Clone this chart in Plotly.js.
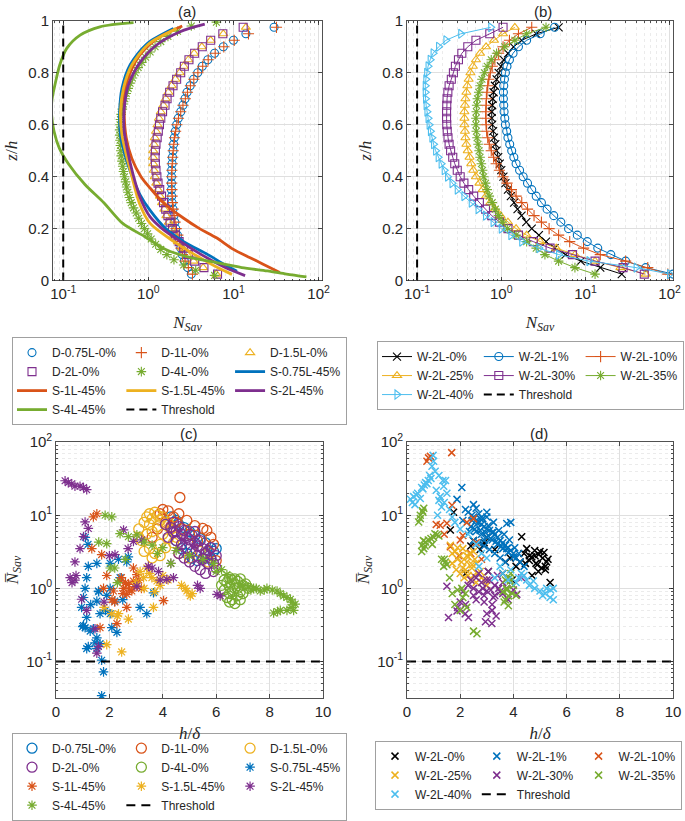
<!DOCTYPE html>
<html><head><meta charset="utf-8">
<script src="https://cdn.plot.ly/plotly-3.0.1.min.js"></script>
<style>body{margin:0;background:#fff}#chart{width:685px;height:821px}</style>
</head><body><div id="chart"></div>
<script>
// ---------- Panel (a): N_Sav profiles vs z/h ----------
const zGrid = [0.025,0.05,0.075,0.1,0.125,0.15,0.175,0.2,0.225,0.25,0.275,0.3,0.325,0.35,0.375,0.4,0.425,0.45,0.475,0.5,0.525,0.55,0.575,0.6,0.625,0.65,0.675,0.7,0.725,0.75,0.775,0.8,0.825,0.85,0.875,0.9,0.925,0.95,0.975];
const nD075 = [3.2,2.9,2.65,2.5,2.4,2.3,2.2,2.1,2.05,2.0,1.95,1.9,1.88,1.87,1.87,1.87,1.88,1.9,1.92,1.95,1.98,2.02,2.08,2.15,2.25,2.4,2.55,2.7,2.85,3.1,3.4,3.8,4.3,5.0,6.0,7.6,10,14,30];
const nD1 = [3.3,2.95,2.7,2.52,2.42,2.32,2.22,2.12,2.06,2.01,1.96,1.92,1.9,1.89,1.88,1.88,1.89,1.91,1.93,1.96,1.99,2.03,2.09,2.16,2.26,2.4,2.55,2.72,2.88,3.12,3.42,3.82,4.35,5.05,6.1,7.7,10.2,15,32];
const nD15 = [6.3,4.4,3.4,2.85,2.5,2.22,2.02,1.86,1.74,1.63,1.54,1.45,1.37,1.3,1.24,1.19,1.16,1.14,1.13,1.14,1.16,1.19,1.23,1.28,1.33,1.4,1.5,1.6,1.72,1.88,2.08,2.33,2.6,2.95,3.45,4.25,5.4,7.6,14];
const nD2 = [6.5,4.5,3.5,2.95,2.6,2.3,2.08,1.92,1.8,1.7,1.6,1.51,1.43,1.36,1.3,1.26,1.23,1.21,1.2,1.21,1.23,1.27,1.31,1.35,1.4,1.47,1.57,1.66,1.78,1.95,2.15,2.4,2.65,3.0,3.5,4.3,5.4,7.5,13];
const zD4 = [0.02,0.04,0.06,0.08,0.1,0.12,0.14,0.16,0.18,0.2,0.22,0.24,0.26,0.28,0.3,0.32,0.34,0.36,0.38,0.4,0.42,0.44,0.46,0.48,0.5,0.52,0.54,0.56,0.58,0.6,0.62,0.64,0.66,0.68,0.7,0.72,0.74,0.76,0.78,0.8,0.82,0.84,0.86,0.88,0.9,0.92,0.94,0.96,0.98,0.995];
const nD4 = [6.0,3.6,2.6,2.0,1.65,1.4,1.22,1.08,0.98,0.9,0.83,0.77,0.72,0.67,0.63,0.6,0.575,0.555,0.54,0.525,0.51,0.5,0.49,0.48,0.475,0.47,0.465,0.462,0.462,0.465,0.47,0.48,0.495,0.51,0.53,0.55,0.58,0.61,0.65,0.7,0.76,0.84,0.93,1.05,1.2,1.4,1.7,2.2,3.2,6.3];
const zS075 = [0.036,0.06,0.1,0.15,0.2,0.27,0.33,0.41,0.485,0.56,0.65,0.74,0.83,0.91,0.97];
const nS075 = [11,8,5.0,2.6,1.6,1.05,0.8,0.63,0.53,0.47,0.46,0.49,0.61,0.95,1.97];
const zS1 = [0.031,0.064,0.088,0.12,0.165,0.2,0.24,0.3,0.356,0.4,0.47,0.55,0.64,0.73,0.8,0.87,0.93,0.98];
const nS1 = [35,22,15.7,10,6.3,4.0,2.6,1.5,1.05,0.82,0.64,0.55,0.52,0.53,0.61,0.8,1.25,2.5];
const zS15 = [0.024,0.05,0.1,0.15,0.22,0.3,0.41,0.485,0.56,0.65,0.74,0.83,0.91,0.97];
const nS15 = [9.6,6.5,3.5,2.0,1.05,0.78,0.63,0.55,0.49,0.47,0.51,0.64,1.0,2.15];
const zS2 = [0.019,0.05,0.1,0.15,0.2,0.245,0.32,0.41,0.5,0.575,0.66,0.75,0.84,0.907,0.958,0.987];
const nS2 = [13.7,8,4.2,2.4,1.45,1.05,0.8,0.66,0.57,0.52,0.52,0.58,0.8,1.25,2.36,4.6];
const zS4 = [0.014,0.025,0.037,0.05,0.069,0.09,0.12,0.17,0.22,0.3,0.37,0.45,0.51,0.575,0.64,0.7,0.754,0.83,0.894,0.945,0.977,0.993];
const nS4 = [72,42,25,12.5,6.3,3.0,1.6,0.9,0.5,0.3,0.18,0.115,0.09,0.078,0.073,0.074,0.08,0.091,0.11,0.158,0.27,0.67];

// ---------- Panel (b): W-2L profiles ----------
const nW0 = [27,15,8.8,5.8,4.3,3.4,2.8,2.3,1.98,1.74,1.56,1.42,1.3,1.2,1.12,1.06,1.0,0.96,0.92,0.88,0.85,0.82,0.8,0.78,0.77,0.77,0.78,0.79,0.81,0.84,0.88,0.93,0.99,1.07,1.2,1.4,1.75,2.6,4.8];
const nW1 = [110,52,30,20,14,10.5,8.0,6.3,5.1,4.2,3.5,3.0,2.6,2.3,2.05,1.82,1.65,1.5,1.41,1.33,1.26,1.2,1.16,1.12,1.1,1.08,1.07,1.06,1.06,1.07,1.09,1.12,1.17,1.25,1.38,1.6,2.0,2.9,4.3];
const nW10 = [95,55,30,15,9.5,6.5,4.8,3.7,3.0,2.45,2.05,1.75,1.5,1.32,1.17,1.05,0.95,0.87,0.81,0.76,0.72,0.69,0.67,0.66,0.655,0.655,0.66,0.665,0.675,0.69,0.71,0.74,0.78,0.84,0.93,1.05,1.25,1.6,2.3];
const nW25 = [52,26,13,7.5,4.5,2.9,2.0,1.5,1.2,0.98,0.84,0.74,0.66,0.6,0.55,0.5,0.465,0.44,0.42,0.4,0.385,0.375,0.37,0.365,0.365,0.365,0.37,0.375,0.385,0.395,0.41,0.43,0.46,0.5,0.56,0.66,0.82,1.05,1.45];
const nW30 = [50,28,13,7.0,3.8,2.4,1.6,1.2,0.95,0.77,0.65,0.55,0.47,0.41,0.36,0.325,0.3,0.28,0.265,0.25,0.24,0.233,0.228,0.225,0.224,0.224,0.225,0.227,0.232,0.24,0.255,0.27,0.285,0.31,0.34,0.4,0.5,0.73,1.05];
const nW35 = [13,7.5,4.8,3.3,2.6,2.0,1.5,1.18,1.03,0.93,0.85,0.78,0.72,0.68,0.65,0.62,0.6,0.58,0.56,0.545,0.53,0.515,0.505,0.5,0.5,0.505,0.51,0.52,0.54,0.56,0.59,0.63,0.68,0.76,0.88,1.1,1.45,2.0,3.4];
const nW40 = [100,40,11,4.8,2.8,1.75,1.3,1.0,0.8,0.65,0.53,0.44,0.36,0.3,0.26,0.23,0.21,0.193,0.178,0.166,0.157,0.15,0.144,0.139,0.135,0.131,0.128,0.126,0.125,0.125,0.127,0.13,0.135,0.143,0.155,0.18,0.22,0.33,0.75];

// ---------- Panel (c): mean N_Sav vs h/delta ----------
const cxD075 = [4.3,4.5,4.6,4.8,5.0,5.2,5.4,5.6,5.8,5.9,5.7,5.5,5.3,5.1,4.9,4.7,4.5,4.4,5.0,5.6,5.8,6.0];
const cyD075 = [9.5,8.5,7.5,6.8,6.0,5.3,4.8,4.2,3.6,3.2,2.9,2.6,2.4,2.6,3.0,3.5,4.5,6.0,4.0,3.0,2.5,3.5];
const cxD1 = [4.64,4.0,3.9,4.2,4.4,4.6,4.9,5.2,5.5,5.65,5.8,5.9,5.3,5.0,4.7,4.3,4.1,3.8,3.6,5.6,6.0,4.5];
const cyD1 = [17.5,12,10.5,11.5,9.5,10.5,8.5,7.2,6.6,6.2,5.0,4.0,4.5,5.5,6.5,7.0,8.0,6.5,5.0,3.0,2.4,8.0];
const cxD15 = [3.1,3.3,3.4,3.5,3.6,3.7,3.8,3.9,4.0,4.1,4.2,4.3,3.2,3.4,3.6,3.8,4.0,4.2,3.5,3.7,3.9,4.1,4.4,4.5,3.3,3.6,3.9,4.6,5.0,5.4,5.7,3.1,3.5];
const cyD15 = [6.5,8.0,9.5,10.5,9.0,11,10,8.5,9.5,7.5,8.0,6.5,4.5,5.5,6.0,7.0,5.5,4.8,3.5,3.0,4.0,3.6,4.2,5.0,3.2,2.6,2.8,3.0,2.6,3.2,2.3,5.0,7.5];
const cxD2 = [4.1,4.3,4.4,4.5,4.6,4.7,4.8,4.9,5.0,5.1,5.2,5.3,5.4,5.5,5.6,5.7,5.8,5.9,6.0,4.5,4.7,4.9,5.1,5.3,5.5,5.7,5.9,4.6,4.8,5.0,5.2,5.4,5.6,4.2,4.4,5.8,6.0,5.2];
const cyD2 = [7.5,6.8,8.0,6.0,7.0,5.5,6.2,5.0,4.6,5.3,4.2,3.8,4.5,3.5,3.0,3.3,2.6,2.2,1.9,4.5,4.0,3.6,3.2,2.8,2.5,2.2,1.7,3.0,2.6,2.3,2.0,1.8,1.6,5.0,5.8,3.6,2.8,6.0];
const cxD4 = [6.2,6.3,6.4,6.5,6.6,6.7,6.8,6.9,7.0,7.1,6.4,6.5,6.6,6.7,6.8,6.9,7.0,6.3,6.5,6.7,6.9,6.6,6.8,6.5,6.7,7.2];
const cyD4 = [1.1,0.95,1.2,0.85,1.3,1.0,1.25,0.9,1.1,1.15,0.75,1.05,0.7,1.15,0.8,1.35,0.85,1.3,0.65,0.62,0.7,0.9,1.0,1.4,1.35,1.0];
const cxS075 = [1.71,1.78,1.71,1.53,1.65,1.28,1.09,1.15,0.96,1.03,1.09,1.15,1.21,1.53,2.03,2.34,2.65,2.71,2.03,2.2,2.03,2.28,2.09,1.53,1.65,1.59,1.53,1.46,1.21,1.4,1.15,1.03,3.15,3.4,3.65,1.3,1.85,2.5,1.0,1.9,1.6,2.4,1.1,1.2];
const cyS075 = [0.034,0.072,0.104,0.15,0.175,0.26,0.29,0.4,0.55,0.75,1.0,1.4,2.0,2.2,2.2,2.5,2.3,2.7,1.0,0.67,0.45,0.25,0.29,0.67,0.45,0.92,0.21,0.18,0.16,0.28,0.15,0.31,0.55,0.45,0.87,0.6,0.5,0.7,0.3,0.8,0.9,1.4,5.0,4.0];
const cxS1 = [1.53,1.34,1.71,1.9,1.78,2.15,2.4,2.53,2.65,2.71,2.84,2.9,3.03,2.65,2.28,2.9,4.03,1.65,2.5,2.6,2.75,2.95,3.1,2.2,2.45,3.2,1.4,2.1];
const cyS1 = [10.5,3.5,2.9,1.5,1.0,0.92,1.26,1.0,0.83,1.13,0.92,1.26,1.54,0.55,0.33,1.9,0.68,0.29,0.85,1.2,0.95,1.05,1.3,0.65,1.4,1.0,9.5,0.7];
const cxS15 = [1.9,2.46,2.09,2.34,2.71,3.65,3.15,3.4,3.59,3.78,3.28,4.9,5.03,4.84,4.7,3.0,3.5,3.9,4.2,4.0,5.1,1.8,2.3,3.3,3.7];
const cyS15 = [0.17,0.135,0.45,0.45,0.38,0.55,1.7,1.9,1.4,1.26,1.4,0.92,0.79,1.0,1.1,1.2,1.6,1.1,1.3,1.5,0.85,0.55,0.42,1.0,0.9];
const cxS2 = [0.34,0.46,0.59,0.71,0.9,1.03,1.15,1.09,1.21,1.03,0.9,0.71,0.53,0.71,0.96,1.15,1.46,1.59,1.53,2.21,2.53,2.9,3.21,3.46,3.84,4.15,4.4,5.4,6.03,6.15,3.03,4.6,4.8,5.0,5.2,5.5,4.3,3.6,2.7,2.0,1.8,0.6,0.75,3.9,5.3];
const cyS2 = [29.7,28,27,25,25,24,22.4,8.1,6.6,5.1,3.5,2.3,1.4,1.3,0.71,0.5,0.28,0.16,0.13,2.9,6.3,4.4,4.6,2.0,1.7,1.33,1.4,1.0,0.83,0.79,1.07,3.5,4.5,2.8,3.8,2.4,2.2,1.9,3.5,2.8,0.65,1.2,1.5,1.3,1.1];
const cxS4 = [1.84,2.09,1.9,2.4,2.71,3.03,2.03,2.3,3.3,3.6,4.0,4.5,5.0,5.5,5.9,6.2,6.4,6.6,7.0,7.4,7.65,7.9,8.28,8.53,8.78,8.96,8.9,8.65,8.4,8.15,7.2,6.0,4.3,3.8,2.2,1.6,2.6,7.3,7.5,7.8,8.1,8.4,8.65,8.85,8.8,8.3];
const cyS4 = [10,9.5,4.1,5.6,5.1,5.4,1.9,1.2,4.3,3.9,3.6,3.3,2.8,2.5,2.2,1.8,1.54,1.3,1.1,1.0,0.92,1.0,0.92,0.79,0.71,0.61,0.5,0.5,0.5,0.46,1.05,1.7,2.2,3.0,1.9,4.3,2.5,0.95,1.0,0.95,0.95,0.85,0.75,0.65,0.55,0.48];

// ---------- Panel (d): W-2L mean N_Sav vs h/delta ----------
const dxW0 = [1.75,1.63,2.88,2.75,4.31,4.5,4.69,4.81,5.0,5.25,5.06,4.94,5.38,4.25,3.88,3.06,4.6,4.9,5.1,5.2,4.4,4.1,3.6,3.3,2.4,2.2,5.3,4.7,3.0,3.95,4.95,5.15,5.2,4.85,4.6,4.8,4.45,3.7,2.5,2.9];
const dyW0 = [11,6.3,3.9,3.4,5.1,3.5,2.7,2.8,3.2,2.3,1.9,1.7,1.2,2.3,2.6,1.7,2.4,2.1,2.6,2.0,3.0,2.0,1.6,3.4,3.8,1.6,2.5,1.5,5.0,1.3,2.9,3.1,1.8,2.2,2.8,3.3,2.2,2.3,4.5,4.2];
const dxW1 = [2.06,1.88,2.5,2.44,2.75,3.75,3.25,3.75,4.25,2.3,2.5,2.6,2.7,2.8,2.9,3.0,3.1,3.2,3.3,3.4,3.5,3.6,3.7,3.8,3.9,4.0,4.1,2.4,2.6,2.8,3.0,3.2,3.4,3.6,3.8,4.0,2.5,2.7,2.9,3.1,3.3,3.5,3.7,2.2,2.1,4.4,3.9,3.0,2.6,2.55,2.65,2.75,2.85,2.95,3.05,3.15,3.25,3.35,3.45,3.55,3.65,3.85,4.05,4.2,2.45,2.35,2.7,3.0,2.9];
const dyW1 = [24,16.5,14,10,9,7.7,5.9,3.5,2.3,11,9.5,8.5,8,7.5,7,6.5,6.2,5.8,5.5,5,4.5,4.2,3.9,3.6,3.3,3.0,2.6,7,6.0,5.5,5.0,4.6,4.0,3.5,3.1,2.7,4.5,4.2,3.8,3.4,3.0,2.6,2.3,12,8.5,2.0,8.0,9.5,12.5,6.5,7.8,6.2,9,5.8,7.2,4.8,8,4.4,6.2,3.8,5.5,4.6,3.6,3.0,8.5,6.0,10.5,11,4.6];
const dxW10 = [0.81,0.88,0.75,1.68,1.25,1.69,2.0,1.63,2.5,2.25,1.1,1.5,2.1,2.4,2.8,1.4,1.95,2.6];
const dyW10 = [61,64,55,72,7.3,13.7,4.6,3.7,9,8,7.5,7.8,5.3,3.0,2.5,5.5,2.8,4.2];
const dxW25 = [1.63,1.81,2.0,2.25,2.44,2.5,2.75,2.1,2.3,2.6,1.9,2.2,2.4,2.0,2.6,2.8,3.0,1.7,2.35,2.55,2.15,1.85,1.7,1.9,2.05,2.25,2.45,2.65,2.9,2.1,2.3,2.5];
const dyW25 = [3.9,3.2,2.8,2.3,1.9,1.5,1.7,3.5,2.7,2.2,2.5,1.8,1.3,1.6,1.2,1.4,1.1,2.2,3.0,2.5,1.4,1.8,3.0,3.6,2.3,2.8,2.1,1.6,1.3,1.9,1.5,3.2];
const dxW30 = [1.5,1.56,1.88,2.19,2.31,3.0,3.19,2.5,3.0,3.25,4.13,4.31,3.75,2.7,2.8,2.9,3.1,3.3,3.5,3.4,3.6,2.6,2.2,2.4,4.0,3.8,3.2,2.95,1.9,3.05,2.3,2.6,2.7,2.85,3.0,3.15,3.3,3.45,3.6,2.5,2.9,3.2,3.35,2.0,2.1];
const dyW30 = [1.07,0.4,0.49,0.45,0.4,0.45,0.33,1.0,0.92,0.75,0.83,1.4,1.0,1.6,1.2,0.8,1.3,1.1,0.9,1.5,1.2,0.7,0.6,1.3,0.95,0.7,0.6,0.35,0.55,1.7,1.1,1.4,0.9,1.0,1.3,0.95,0.8,1.0,0.85,0.8,0.65,0.5,0.42,0.65,0.9];
const dxW35 = [0.44,0.5,0.63,0.56,0.63,1.13,1.44,1.38,2.06,2.25,2.5,2.63,3.75,3.88,3.81,3.81,0.7,0.8,0.9,1.0,1.2,0.55,0.6,1.3,1.5,1.9,2.1,3.6,3.9,4.0,3.7,1.7,1.8,2.0,3.7,3.75,3.85,3.95,4.1,3.65,0.5,0.58,0.62,0.68,1.05,0.95,1.4,1.6,2.2];
const dyW35 = [8.1,10,12.5,3.9,3.5,5.4,2.3,2.0,1.0,0.55,0.26,0.24,1.0,1.26,0.79,0.58,4.3,4.6,4.8,5.0,5.2,3.2,11,2.5,2.1,0.95,0.75,0.9,1.6,1.1,0.7,0.85,0.6,0.5,1.3,0.95,1.4,0.85,0.8,0.65,9,11.5,4.5,3.8,5.6,4.0,2.5,1.4,0.85];
const dxW40 = [0.13,0.25,0.4,0.55,0.7,0.8,0.9,1.06,0.94,0.98,1.2,1.38,1.5,1.4,1.3,1.2,1.1,0.3,0.5,0.65,1.6,1.8,2.0,2.3,4.75,5.0,5.25,5.5,5.38,4.4,4.6,4.2,3.6,3.8,2.8,3.0,1.45,1.7,2.6,5.1,3.5,3.9,4.1,4.3,4.5,4.8,5.2,5.4,5.5,3.3,2.7,1.15,0.2,0.35,0.6,0.75,1.0,0.85,1.25,1.35];
const dyW40 = [16.6,18,20,24,28,30,32,40,47,66,35,25,20,15,13,16,22,14,17,26,12,8,6.5,5.5,1.26,0.92,1.0,1.0,0.75,1.5,1.1,1.4,1.6,1.3,3.0,2.6,30,9.5,4.0,0.8,2.0,1.8,1.2,1.6,1.3,1.0,0.85,0.95,0.7,1.4,2.0,10,15,19,23,27,55,35,18,30];

// threshold and axis tick labels
const thresholdN = 0.1;
const zSpan = [0, 1];
const hdSpan = [0, 10];
const logTickVals = [0.1, 1, 10, 100];
const logTickText = ['10<sup>-1</sup>', '10<sup>0</sup>', '10<sup>1</sup>', '10<sup>2</sup>'];

// legend labels
const namesA = ['D-0.75L-0%','D-1L-0%','D-1.5L-0%','D-2L-0%','D-4L-0%','S-0.75L-45%','S-1L-45%','S-1.5L-45%','S-2L-45%','S-4L-45%','Threshold'];
const namesB = ['W-2L-0%','W-2L-1%','W-2L-10%','W-2L-25%','W-2L-30%','W-2L-35%','W-2L-40%','Threshold'];

const COL = {blue:'#0072BD', orange:'#D95319', yellow:'#EDB120', purple:'#7E2F8E', green:'#77AC30', cyan:'#4DBEEE', black:'#000000'};
const W = 685, H = 821;
const fx = p => p / W, fy = p => 1 - p / H;
const FONT = 'Liberation Sans, Arial, sans-serif';
const SERIF = 'Liberation Serif, Times New Roman, serif';
const TXT = '#262626';

const traces = [];
function add(t, leg, i, prefix) {
  t.legend = leg;
  t.legendgroup = prefix + ((i - 1) % 3);
  t.legendrank = i;
  t.hoverinfo = 'skip';
  traces.push(t);
}
const colsA = [COL.blue, COL.orange, COL.yellow, COL.purple, COL.green];
// (a) markers
const symA = ['circle-open','cross-thin-open','triangle-up-open','square-open','asterisk-open'];
const dataA = [nD075, nD1, nD15, nD2, nD4];
for (let k = 0; k < 5; k++) {
  add({type:'scatter', mode:'markers', x:dataA[k], y: k === 4 ? zD4 : zGrid, xaxis:'x', yaxis:'y', name:namesA[k],
    marker:{symbol:symA[k], size:8, color:colsA[k], line:{color:colsA[k], width:1.1}}}, 'legend', k + 1, 'a');
}
const linesA = [[nS075,zS075],[nS1,zS1],[nS15,zS15],[nS2,zS2],[nS4,zS4]];
for (let k = 0; k < 5; k++) {
  add({type:'scatter', mode:'lines', x:linesA[k][0], y:linesA[k][1], xaxis:'x', yaxis:'y', name:namesA[5 + k],
    line:{color:colsA[k], width:2.8, shape:'spline', smoothing:0.8}}, 'legend', 6 + k, 'a');
}
add({type:'scatter', mode:'lines', x:[thresholdN, thresholdN], y:zSpan, xaxis:'x', yaxis:'y', name:namesA[10],
  line:{color:'#000', width:2, dash:'8px,5px'}}, 'legend', 11, 'a');

// (b)
const colsB = [COL.black, COL.blue, COL.orange, COL.yellow, COL.purple, COL.green, COL.cyan];
const symB = ['x-thin-open','circle-open','cross-thin-open','triangle-up-open','square-open','asterisk-open','triangle-right-open'];
const dataB = [nW0, nW1, nW10, nW25, nW30, nW35, nW40];
for (let k = 0; k < 7; k++) {
  add({type:'scatter', mode:'lines+markers', x:dataB[k], y:zGrid, xaxis:'x2', yaxis:'y2', name:namesB[k],
    line:{color:colsB[k], width:1},
    marker:{symbol:symB[k], size:8, color:colsB[k], line:{color:colsB[k], width:1.1}}}, 'legend2', k + 1, 'b');
}
add({type:'scatter', mode:'lines', x:[thresholdN, thresholdN], y:zSpan, xaxis:'x2', yaxis:'y2', name:namesB[7],
  line:{color:'#000', width:2, dash:'8px,5px'}}, 'legend2', 8, 'b');

// (c)
const dataC = [[cxD075,cyD075],[cxD1,cyD1],[cxD15,cyD15],[cxD2,cyD2],[cxD4,cyD4],[cxS075,cyS075],[cxS1,cyS1],[cxS15,cyS15],[cxS2,cyS2],[cxS4,cyS4]];
for (let k = 0; k < 10; k++) {
  const c = colsA[k % 5];
  const circ = k < 5;
  add({type:'scatter', mode:'markers', x:dataC[k][0], y:dataC[k][1], xaxis:'x3', yaxis:'y3', name:namesA[k],
    marker:{symbol: circ ? 'circle-open' : 'asterisk-open', size: circ ? 10 : 8, color:c, line:{color:c, width: circ ? 1.3 : 1.2}}}, 'legend3', k + 1, 'c');
}
add({type:'scatter', mode:'lines', x:hdSpan, y:[thresholdN, thresholdN], xaxis:'x3', yaxis:'y3', name:namesA[10],
  line:{color:'#000', width:2, dash:'9px,6px'}}, 'legend3', 11, 'c');

// (d)
const dataD = [[dxW0,dyW0],[dxW1,dyW1],[dxW10,dyW10],[dxW25,dyW25],[dxW30,dyW30],[dxW35,dyW35],[dxW40,dyW40]];
for (let k = 0; k < 7; k++) {
  add({type:'scatter', mode:'markers', x:dataD[k][0], y:dataD[k][1], xaxis:'x4', yaxis:'y4', name:namesB[k],
    marker:{symbol:'x-thin-open', size:7, color:colsB[k], line:{color:colsB[k], width:1.5}}}, 'legend4', k + 1, 'd');
}
add({type:'scatter', mode:'lines', x:hdSpan, y:[thresholdN, thresholdN], xaxis:'x4', yaxis:'y4', name:namesB[7],
  line:{color:'#000', width:2, dash:'9px,6px'}}, 'legend4', 8, 'd');

// axes
const tickFont = {family: FONT, size: 15, color: TXT};
const titleFont = {family: SERIF, size: 17, color: TXT};
function baseAxis(extra) {
  return Object.assign({
    showline:true, mirror:'ticks', linecolor:'#262626', linewidth:0.8,
    ticks:'inside', ticklen:4, tickcolor:'#262626', tickwidth:0.8,
    showgrid:true, gridcolor:'#dfdfdf', gridwidth:1, zeroline:false,
    tickfont: tickFont, automargin:false, fixedrange:true
  }, extra);
}
const minorLog = {showgrid:true, gridcolor:'#ebebeb', griddash:'dot', ticks:'inside', ticklen:2, tickcolor:'#262626', dtick:'D1'};
function logX(dom, anchor) {
  return baseAxis({type:'log', domain:dom, anchor:anchor, range:[-1.12, 2.04],
    tickmode:'array', tickvals:logTickVals, ticktext:logTickText, minor:minorLog,
    title:{text:'<i>N</i><sub><i>Sav</i></sub>', font:titleFont, standoff:14}});
}
function zY(dom, anchor) {
  return baseAxis({domain:dom, anchor:anchor, range:[0, 1], dtick:0.2,
    title:{text:'<i>z</i>/<i>h</i>', font:titleFont, standoff:6}});
}
function hdX(dom, anchor) {
  return baseAxis({domain:dom, anchor:anchor, range:[0, 10], dtick:2,
    title:{text:'<i>h</i>/<i>δ</i>', font:titleFont, standoff:8}});
}
function logY(dom, anchor) {
  return baseAxis({type:'log', domain:dom, anchor:anchor, range:[-1.5, 2],
    tickmode:'array', tickvals:logTickVals, ticktext:logTickText, minor:minorLog,
    title:{text:'<i>N\u0305</i><sub><i>Sav</i></sub>', font:titleFont, standoff:3}});
}
const domXa = [fx(53), fx(322)], domXb = [fx(407), fx(673)], domXc = [fx(56), fx(323)];
const domYtop = [fy(283), fy(21)], domYbot = [fy(704), fy(446)];

function legendBox(x, y) {
  return {x:fx(x), y:fy(y), xanchor:'left', yanchor:'top', orientation:'h', traceorder:'grouped',
    bordercolor:'#a0a0a0', borderwidth:1, bgcolor:'#ffffff', itemwidth:30, tracegroupgap:0,
    font:{family:FONT, size:12, color:TXT}, itemclick:false, itemdoubleclick:false};
}
function panelTitle(text, x, y) {
  return {text:text, x:fx(x), y:fy(y), xref:'paper', yref:'paper', showarrow:false,
    xanchor:'center', yanchor:'middle', font:{family:FONT, size:15, color:TXT}};
}

const layout = {
  width: W, height: H, margin:{l:0, r:0, t:0, b:0}, paper_bgcolor:'#fff', plot_bgcolor:'#fff',
  showlegend:true, hovermode:false,
  xaxis: logX(domXa, 'y'), yaxis: zY(domYtop, 'x'),
  xaxis2: logX(domXb, 'y2'), yaxis2: zY(domYtop, 'x2'),
  xaxis3: hdX(domXc, 'y3'), yaxis3: logY(domYbot, 'x3'),
  xaxis4: hdX(domXb, 'y4'), yaxis4: logY(domYbot, 'x4'),
  legend: legendBox(12, 340), legend2: legendBox(377, 344),
  legend3: legendBox(12, 739), legend4: legendBox(375, 747),
  annotations: [panelTitle('(a)', 187, 12), panelTitle('(b)', 543, 12), panelTitle('(c)', 189, 437), panelTitle('(d)', 539, 437)]
};

Plotly.newPlot('chart', traces, layout, {staticPlot:true, displayModeBar:false});
</script></body></html>
